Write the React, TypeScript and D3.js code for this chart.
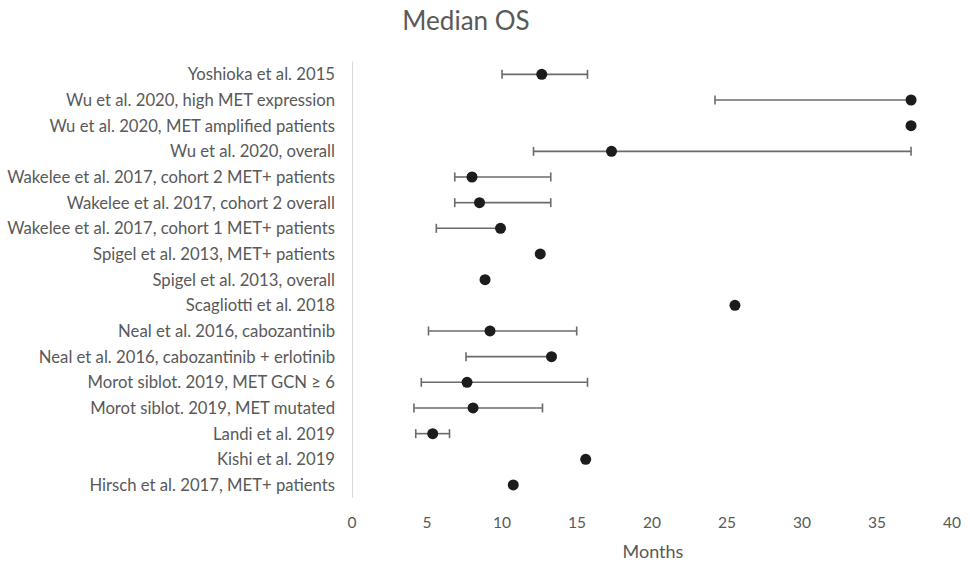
import React from "react";
import * as d3 from "d3";

const studies = [
  "Yoshioka et al. 2015",
  "Wu et al. 2020, high MET expression",
  "Wu et al. 2020, MET amplified patients",
  "Wu et al. 2020, overall",
  "Wakelee et al. 2017, cohort 2 MET+ patients",
  "Wakelee et al. 2017, cohort 2 overall",
  "Wakelee et al. 2017, cohort 1 MET+ patients",
  "Spigel et al. 2013, MET+ patients",
  "Spigel et al. 2013, overall",
  "Scagliotti et al. 2018 ",
  "Neal et al. 2016, cabozantinib",
  "Neal et al. 2016, cabozantinib + erlotinib",
  "Morot siblot. 2019, MET GCN \u2265 6",
  "Morot siblot. 2019, MET mutated",
  "Landi et al. 2019",
  "Kishi et al. 2019",
  "Hirsch et al. 2017, MET+ patients",
];

// Median overall survival (months)
const medianOS = [12.65, 37.27, 37.27, 17.3, 8.0, 8.5, 9.9, 12.55, 8.87, 25.53, 9.2, 13.3, 7.67, 8.07, 5.38, 15.58, 10.75];
// 95% CI bounds (null = not reported)
const ciLow: (number | null)[] = [10.0, 24.2, null, 12.1, 6.85, 6.85, 5.62, null, null, null, 5.1, 7.6, 4.62, 4.13, 4.25, null, null];
const ciHigh: (number | null)[] = [15.7, null, null, 37.27, 13.25, 13.25, null, null, null, null, 14.98, null, 15.7, 12.7, 6.5, null, null];

const xTicks = [0, 5, 10, 15, 20, 25, 30, 35, 40];

const W = 970;
const H = 562;
const TEXT = "#595959";
const FONT = "Lato, 'Open Sans', sans-serif";

export default function App() {
  const x = d3.scaleLinear().domain([0, 40]).range([352, 952]);
  const y = d3.scaleBand<string>().domain(studies).range([61.5, 497.8]);
  const cy = (s: string) => (y(s) as number) + y.bandwidth() / 2;
  const cap = 4.5;

  return (
    <svg width={W} height={H} style={{ position: "absolute", left: 0, top: 0, background: "#fff" }}>
      <text x={466} y={30} textAnchor="middle" fontFamily={FONT} fontSize={26} fill={TEXT}>
        Median OS
      </text>

      <line x1={x(0) + 0.5} x2={x(0) + 0.5} y1={y.range()[0]} y2={y.range()[1]} stroke="#d9d9d9" strokeWidth={1} />

      {studies.map((s) => (
        <text key={s} x={335} y={cy(s)} dy="0.36em" textAnchor="end" fontFamily={FONT} fontSize={16.7} fill={TEXT}>
          {s}
        </text>
      ))}

      {xTicks.map((t) => (
        <text key={t} x={x(t)} y={528} textAnchor="middle" fontFamily={FONT} fontSize={15.5} fill={TEXT}>
          {t}
        </text>
      ))}
      <text x={653} y={558} textAnchor="middle" fontFamily={FONT} fontSize={18} fill={TEXT}>
        Months
      </text>

      {studies.map((s, i) => {
        const yc = cy(s);
        const m = medianOS[i];
        const lo = ciLow[i];
        const hi = ciHigh[i];
        return (
          <g key={s}>
            {lo !== null && (
              <g stroke="#6b6b6b" strokeWidth={1.6}>
                <line x1={x(lo)} x2={x(m)} y1={yc} y2={yc} />
                <line x1={x(lo)} x2={x(lo)} y1={yc - cap} y2={yc + cap} />
              </g>
            )}
            {hi !== null && (
              <g stroke="#6b6b6b" strokeWidth={1.6}>
                <line x1={x(m)} x2={x(hi)} y1={yc} y2={yc} />
                <line x1={x(hi)} x2={x(hi)} y1={yc - cap} y2={yc + cap} />
              </g>
            )}
            <circle cx={x(m)} cy={yc} r={5.5} fill="#1c1c1c" />
          </g>
        );
      })}
    </svg>
  );
}
